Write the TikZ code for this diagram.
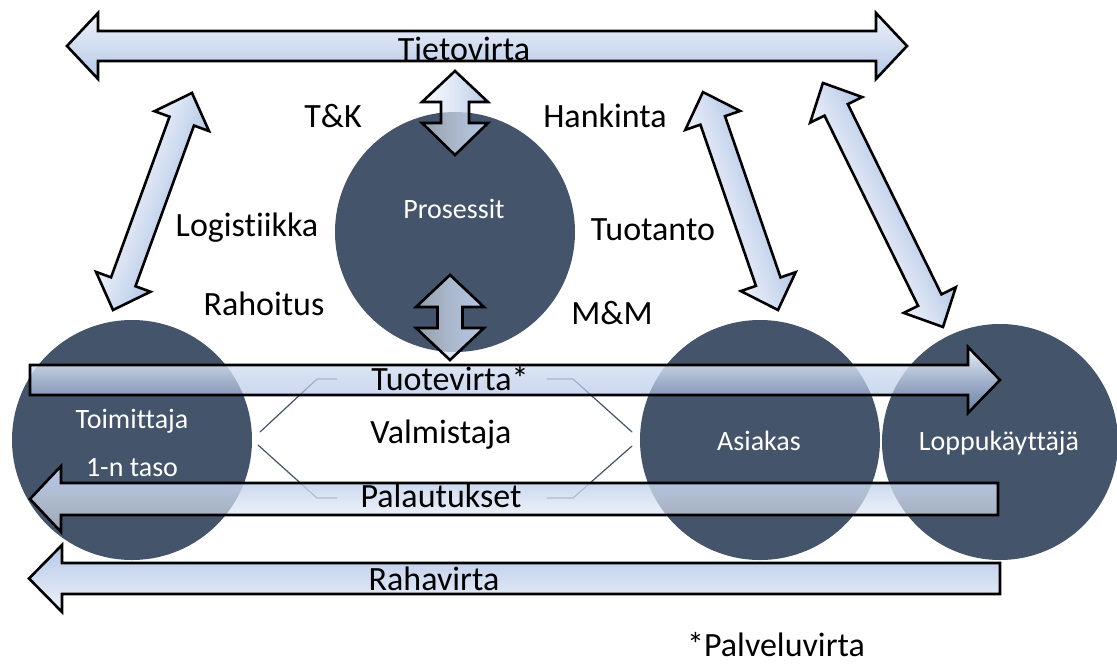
\documentclass[tikz,border=0pt]{standalone}
\usepackage{fontspec}
\setmainfont{Carlito}[Ligatures=NoCommon]
\usetikzlibrary{fadings}

\definecolor{slate}{HTML}{44546A}
\definecolor{flowblue}{HTML}{B4C7E7}
\definecolor{flowdeep}{HTML}{9BB3E0}
\definecolor{flowpale}{HTML}{EFF3FA}

% opacity ramps for the flow arrows that pass over the circles
\tikzfading[name=fadedown, top color=transparent!0, bottom color=transparent!50]
\tikzfading[name=fadeleftside, left color=transparent!55, right color=transparent!0]

% outlines of the block arrows
\newcommand\tietopath{(67,46) -- (98,13) -- (98,31) -- (876,31) -- (876,13) -- (907,46) -- (876,79) -- (876,61) -- (98,61) -- (98,79) -- cycle}
\newcommand\tuotepath{(30,365) -- (968,365) -- (968,347) -- (1000,380) -- (968,413) -- (968,395) -- (30,395) -- cycle}
\newcommand\palautpath{(30,499) -- (61,466) -- (61,483) -- (998,483) -- (998,515) -- (61,515) -- (61,532) -- cycle}
\newcommand\rahapath{(29,578.5) -- (62,545) -- (62,563) -- (1000,563) -- (1000,594) -- (62,594) -- (62,612) -- cycle}
\newcommand\upperpath{(455,71) -- (488,102) -- (469,102) -- (469,123) -- (488,123) -- (455,155) -- (422,123) -- (441,123) -- (441,102) -- (422,102) -- cycle}
\newcommand\lowerpath{(450,275) -- (484,307) -- (462.5,307) -- (462.5,328) -- (484,328) -- (450,360) -- (416,328) -- (437.5,328) -- (437.5,307) -- (416,307) -- cycle}

% slanted two-headed arrow: #1 start point, #2 angle, #3 length
\newcommand\slantflow[3]{%
  \begin{scope}[transform canvas={shift={#1},rotate=#2}]
    \path[flow, top color=flowpale, bottom color=flowblue]
      (0,0) -- (30,29) -- (30,13) -- (#3-30,13) -- (#3-30,29) -- (#3,0)
      -- (#3-30,-29) -- (#3-30,-13) -- (30,-13) -- (30,-29) -- cycle;
  \end{scope}}

\tikzset{
  flow/.style={draw=black, line width=2.6pt, line join=miter},
  edge/.style={draw=black, line width=2.6pt, line join=miter},
  party/.style={circle, fill=slate, inner sep=0pt},
  lbl/.style={font=\fontsize{34}{38}\selectfont, inner sep=0pt, anchor=base, text=black},
  wlbl/.style={font=\fontsize{28}{32}\selectfont, inner sep=0pt, anchor=base, text=white},
  hexline/.style={draw=slate, line width=1.2pt, line cap=round},
}

\begin{document}
\begin{tikzpicture}[x=1pt, y=-1pt]
\useasboundingbox (0,0) rectangle (1117,664);

% Valmistaja outline
\draw[hexline] (337,379) -- (317,379) -- (260,432);
\draw[hexline] (258,445) -- (317,498) -- (337,498);
\draw[hexline] (547,379) -- (573,379) -- (632,432);
\draw[hexline] (632,446) -- (573,498) -- (547,498);

% actors
\node[party, minimum size=240pt] (proc) at (455,232) {};
\node[party, minimum size=240pt] (supp) at (132,440) {};
\node[party, minimum size=240pt] (cust) at (760,440) {};
\node[party, minimum size=236pt] (user) at (1000,442) {};

% slanted information links
\slantflow{(113,310)}{70.0}{231}
\slantflow{(778,310)}{109.0}{230.5}
\slantflow{(943,327)}{116.2}{272}

% information flow on top
\path[top color=flowpale, bottom color=flowblue] \tietopath;
\draw[edge] \tietopath;

% links into the process circle
\path[left color=flowpale, right color=flowblue, path fading=fadeleftside, fit fading=true] \upperpath;
\draw[edge] \upperpath;
\path[left color=flowpale, right color=flowblue, path fading=fadeleftside, fit fading=true] \lowerpath;
\draw[edge] \lowerpath;

% product, return and money flows
\path[top color=flowpale, bottom color=flowdeep, path fading=fadedown, fit fading=true] \tuotepath;
\draw[edge] \tuotepath;
\path[top color=flowblue, bottom color=flowpale, path fading=fadedown, fit fading=true] \palautpath;
\draw[edge] \palautpath;
\path[top color=flowblue, bottom color=flowpale] \rahapath;
\draw[edge] \rahapath;

% labels
\node[lbl] (tieto) at (464,60) {Tietovirta};
\node[lbl] (tk) at (333,127) {T\&K};
\node[lbl] (hank) at (605,127) {Hankinta};
\node[lbl] (logi) at (247,236) {Logistiikka};
\node[lbl] (tuotanto) at (653,240) {Tuotanto};
\node[lbl] (rahoitus) at (264,315) {Rahoitus};
\node[lbl] (mm) at (612,324) {M\&M};
\node[lbl] (tuote) at (450,390) {Tuotevirta*};
\node[lbl] (valm) at (441,443) {Valmistaja};
\node[lbl] (palaut) at (441,507) {Palautukset};
\node[lbl] (raha) at (434,590) {Rahavirta};
\node[lbl] (palvelu) at (776,656) {*Palveluvirta};

\node[wlbl] (proclbl) at (454,218) {Prosessit};
\node[wlbl] (supplbl) at (132,428) {Toimittaja};
\node[wlbl] (suppsub) at (132,476) {1-n taso};
\node[wlbl] (custlbl) at (759,450) {Asiakas};
\node[wlbl] (userlbl) at (999,450) {Loppukäyttäjä};
\end{tikzpicture}
\end{document}
